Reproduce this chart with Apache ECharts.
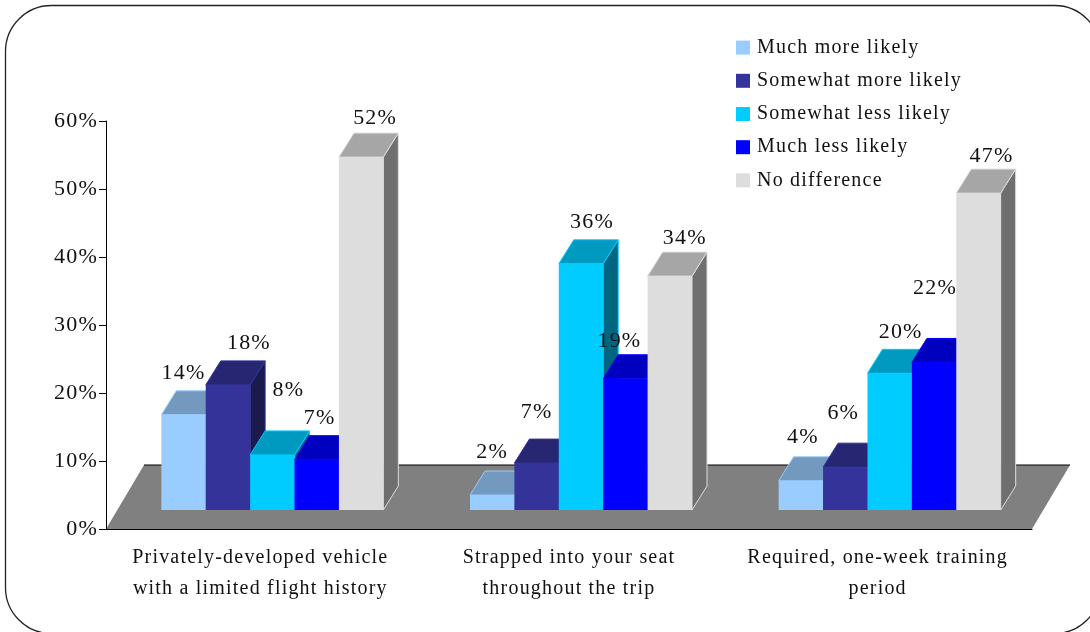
<!DOCTYPE html>
<html>
<head>
<meta charset="utf-8">
<style>
    html, body { margin: 0; padding: 0; background: #fff; overflow: hidden; }
    #main { width: 1090px; height: 632px; }
</style>
<script src="https://cdn.jsdelivr.net/npm/echarts@6/dist/echarts.min.js"></script>
</head>
<body>
<div id="main"></div>
<script>
var categories = [
    'Privately-developed vehicle\nwith a limited flight history',
    'Strapped into your seat\nthroughout the trip',
    'Required, one-week training\nperiod'
];
var seriesNames = ['Much more likely', 'Somewhat more likely', 'Somewhat less likely', 'Much less likely', 'No difference'];
// bar heights, the printed labels are these rounded
var muchMore = [14, 2.2, 4.3];
var somewhatMore = [18.4, 6.9, 6.3];
var somewhatLess = [8.1, 36.2, 20.1];
var muchLess = [7.4, 19.3, 21.7];
var noDifference = [51.9, 34.4, 46.6];
var seriesValues = [muchMore, somewhatMore, somewhatLess, muchLess, noDifference];

// colours: front, top, side
var colors = [
    ['#99CCFF', '#7399BF', '#4D6680'],
    ['#333399', '#262673', '#1A1A4D'],
    ['#00CCFF', '#0099BF', '#006680'],
    ['#0000FF', '#0000BF', '#000080'],
    ['#DDDDDD', '#A6A6A6', '#6F6F6F']
];

// hand nudges of the value labels (dx, dy) from the top of each bar, same layout as seriesValues
var labelNudge = [
    [[0, -18], [0, -19], [2, -20]],
    [[21, -18], [0, -27], [-2, -30]],
    [[16, -41], [11, -18], [11, -17]],
    [[3, -17], [-6, -14], [1, -50]],
    [[14, -15], [15, -14], [13, -13]]
];

var FONT = '"Liberation Serif", "Times New Roman", serif';
var BAR_W = 44.4;
var GROUP_SHIFT = 12;    // bars sit a bit right of the band centre
var BASE_DY = 19;        // bar base is in front of the floor back edge
var DEPTH_X = 15;
var DEPTH_Y = 24;
var FLOOR_X = 38;
var FLOOR_Y = 64;

// the reference text is tracked out, zrender has no option for it
var getContext2d = HTMLCanvasElement.prototype.getContext;
HTMLCanvasElement.prototype.getContext = function(type, opts) {
    var ctx = getContext2d.call(this, type, opts);
    if (type === '2d' && ctx) {
        ctx.letterSpacing = '1.2px';
    }
    return ctx;
};

function barBox(api, s) {
    var catIdx = api.value(0);
    var top = api.coord([catIdx, api.value(1)]);
    var base = api.coord([catIdx, 0]);
    var left = top[0] + GROUP_SHIFT - BAR_W * seriesNames.length / 2 + s * BAR_W;
    return { left: left, right: left + BAR_W, top: top[1] - BASE_DY, base: base[1] - BASE_DY };
}

function makeBarSeries(s) {
    var data = seriesValues[s].map(function(v, i) {
        return [i, v];
    });
    return {
        type: 'custom',
        name: seriesNames[s],
        coordinateSystem: 'cartesian2d',
        z: 3,
        itemStyle: { color: colors[s][0] },
        data: data,
        renderItem: function(params, api) {
            var b = barBox(api, s);
            var line = { stroke: colors[s][0], lineWidth: 1 };
            return {
                type: 'group',
                children: [{
                    type: 'polygon',
                    shape: { points: [[b.right, b.base], [b.right + DEPTH_X, b.base - DEPTH_Y], [b.right + DEPTH_X, b.top - DEPTH_Y], [b.right, b.top]] },
                    style: { fill: colors[s][2], stroke: line.stroke, lineWidth: line.lineWidth }
                }, {
                    type: 'polygon',
                    shape: { points: [[b.left, b.top], [b.left + DEPTH_X, b.top - DEPTH_Y], [b.right + DEPTH_X, b.top - DEPTH_Y], [b.right, b.top]] },
                    style: { fill: colors[s][1], stroke: line.stroke, lineWidth: line.lineWidth }
                }, {
                    type: 'rect',
                    shape: { x: b.left, y: b.top, width: BAR_W, height: b.base - b.top },
                    style: { fill: colors[s][0] }
                }]
            };
        }
    };
}

function makeLabelSeries(s) {
    return {
        type: 'custom',
        name: seriesNames[s] + ' labels',
        coordinateSystem: 'cartesian2d',
        z: 4,
        silent: true,
        data: seriesValues[s].map(function(v, i) {
            return [i, v];
        }),
        renderItem: function(params, api) {
            var b = barBox(api, s);
            var nudge = labelNudge[s][api.value(0)];
            return {
                type: 'text',
                style: {
                    text: Math.round(api.value(1)) + '%',
                    x: (b.left + b.right) / 2 + nudge[0],
                    y: b.top - DEPTH_Y + nudge[1],
                    align: 'center',
                    verticalAlign: 'middle',
                    font: '22px ' + FONT,
                    fill: '#111'
                }
            };
        }
    };
}

var floorSeries = {
    type: 'custom',
    name: 'floor',
    coordinateSystem: 'cartesian2d',
    z: 1,
    silent: true,
    data: [[0, 0]],
    renderItem: function(params, api) {
        var bandW = api.size([1, 0])[0];
        var p = api.coord([0, 0]);
        var x0 = p[0] - bandW / 2;
        var x1 = x0 + bandW * categories.length;
        return {
            type: 'group',
            children: [{
                type: 'polygon',
                shape: { points: [[x0, p[1]], [x0 + FLOOR_X, p[1] - FLOOR_Y], [x1 + FLOOR_X, p[1] - FLOOR_Y], [x1, p[1]]] },
                style: { fill: '#808080' }
            }, {
                type: 'line',
                shape: { x1: x0 + FLOOR_X, y1: p[1] - FLOOR_Y, x2: x1 + FLOOR_X, y2: p[1] - FLOOR_Y },
                style: { stroke: '#000', lineWidth: 1 }
            }]
        };
    }
};

var series = [floorSeries];
for (var i = 0; i < seriesNames.length; i++) {
    series.push(makeBarSeries(i));
}
for (var j = 0; j < seriesNames.length; j++) {
    series.push(makeLabelSeries(j));
}

var chart = echarts.init(document.getElementById('main'), null, { renderer: 'canvas' });
chart.setOption({
    animation: false,
    backgroundColor: '#fff',
    graphic: [{
        type: 'rect',
        shape: { x: 5.5, y: 5.5, width: 1095, height: 628, r: 46 },
        style: { fill: 'none', stroke: '#222', lineWidth: 1.3 },
        silent: true,
        z: 0
    }],
    legend: {
        data: seriesNames,
        orient: 'vertical',
        left: 736,
        top: 37,
        padding: 0,
        icon: 'rect',
        itemWidth: 14,
        itemHeight: 14,
        itemGap: 12,
        selectedMode: false,
        textStyle: { fontFamily: FONT, fontSize: 20, color: '#111', padding: [0, 0, 0, 2], height: 20, lineHeight: 20 }
    },
    grid: { left: 106, right: 58, top: 121, bottom: 103 },
    xAxis: {
        type: 'category',
        data: categories,
        z: 2,
        axisLine: { lineStyle: { color: '#000', width: 1 } },
        axisTick: { length: 8, lineStyle: { color: '#000' } },
        axisLabel: { fontFamily: FONT, fontSize: 20, color: '#111', lineHeight: 31, margin: 13, interval: 0 }
    },
    yAxis: {
        type: 'value',
        min: 0,
        max: 60,
        interval: 10,
        z: 2,
        splitLine: { show: false },
        axisLine: { show: true, lineStyle: { color: '#000', width: 1 } },
        axisTick: { show: true, length: 7, lineStyle: { color: '#000' } },
        axisLabel: { formatter: '{value}%', fontFamily: FONT, fontSize: 22, color: '#111', margin: 8, padding: [3, 0, 0, 0] }
    },
    series: series
});
</script>
</body>
</html>
